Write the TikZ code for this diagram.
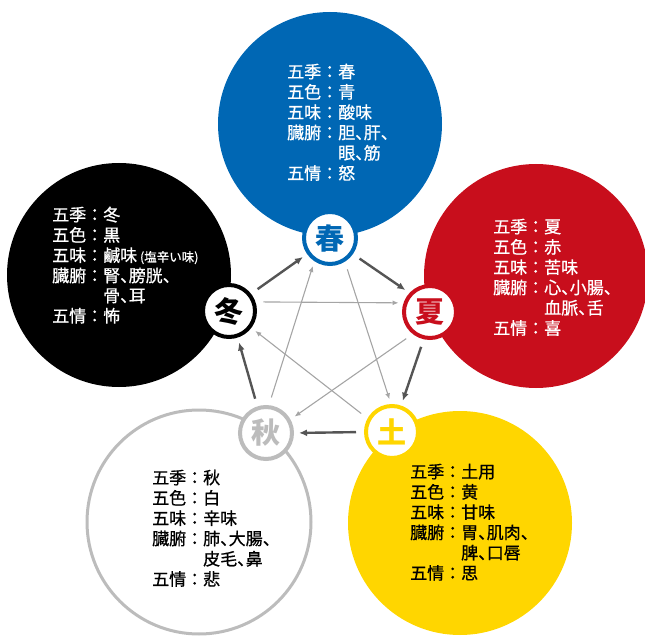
\documentclass[tikz,border=0pt]{standalone}
\usepackage{fontspec}
\setmainfont{Noto Sans CJK JP}
\newfontfamily\bodyfont[FakeBold=0.7]{Noto Sans CJK JP}
\usetikzlibrary{arrows.meta}

\definecolor{haru}{RGB}{0,103,180}
\definecolor{natsu}{RGB}{200,14,28}
\definecolor{doyo}{RGB}{255,214,0}
\definecolor{aki}{RGB}{188,188,188}
\definecolor{fuyu}{RGB}{0,0,0}
\definecolor{cyc}{RGB}{85,85,85}
\definecolor{ctl}{RGB}{165,165,165}

% narrow ideographic comma
\newcommand\tou{\makebox[0.5em][l]{、}}

\tikzset{
  bigdisc/.style={circle, minimum size=224pt, inner sep=0pt, outer sep=0pt},
  badge/.style={circle, draw=#1, line width=4pt, fill=white, minimum size=52pt,
    inner sep=0pt, text=#1, font=\fontsize{29}{29}\selectfont\bfseries},
  gen/.style={draw=cyc, line width=2.4pt, -{Latex[length=8pt,width=7pt]},
    shorten <=8pt, shorten >=5pt},
  ctrl/.style={draw=ctl, line width=1.1pt, -{Latex[length=6pt,width=5pt]},
    shorten <=8pt, shorten >=5pt},
  infotext/.style={anchor=base west, inner sep=0pt, font=\bodyfont\fontsize{17}{20}\selectfont}
}

\begin{document}
\begin{tikzpicture}[x=1pt,y=-1pt]
\useasboundingbox (0,0) rectangle (645,636);

% large discs, one per element
\node[bigdisc, fill=haru]  (haruDisc)  at (330,124) {};
\node[bigdisc, fill=natsu] (natsuDisc) at (536,276) {};
\node[bigdisc, fill=fuyu]  (fuyuDisc)  at (119,275) {};
\node[bigdisc, fill=white, draw=aki, line width=3pt] (akiDisc) at (199,522) {};
\node[bigdisc, fill=doyo]  (doyoDisc)  at (460,523) {};

% correspondence tables
\node[infotext, text=white] (haruText) at (287,78) {\begin{tabular}[t]{@{}l@{}l@{}}
五季：&春\\ 五色：&青\\ 五味：&酸味\\ 臓腑：&胆\tou 肝\tou\\ &眼\tou 筋\\ 五情：&怒
\end{tabular}};
\node[infotext, text=white] (natsuText) at (493,233) {\begin{tabular}[t]{@{}l@{}l@{}}
五季：&夏\\ 五色：&赤\\ 五味：&苦味\\ 臓腑：&心\tou 小腸\tou\\ &血脈\tou 舌\\ 五情：&喜
\end{tabular}};
\node[infotext, text=white] (fuyuText) at (52,221) {\begin{tabular}[t]{@{}l@{}l@{}}
五季：&冬\\ 五色：&黒\\ 五味：&鹹味\,{\fontsize{12.5}{12}\selectfont (塩辛い味)}\\ 臓腑：&腎\tou 膀胱\tou\\ &骨\tou 耳\\ 五情：&怖
\end{tabular}};
\node[infotext, text=black] (akiText) at (152,484) {\begin{tabular}[t]{@{}l@{}l@{}}
五季：&秋\\ 五色：&白\\ 五味：&辛味\\ 臓腑：&肺\tou 大腸\tou\\ &皮毛\tou 鼻\\ 五情：&悲
\end{tabular}};
\node[infotext, text=black] (doyoText) at (410,478) {\begin{tabular}[t]{@{}l@{}l@{}}
五季：&土用\\ 五色：&黄\\ 五味：&甘味\\ 臓腑：&胃\tou 肌肉\tou\\ &脾\tou 口唇\\ 五情：&思
\end{tabular}};

% element badges
\node[badge=haru]  (haru)  at (330,238) {春};
\node[badge=natsu] (natsu) at (430,312) {夏};
\node[badge=doyo]  (doyo)  at (392,432) {土};
\node[badge=aki]   (aki)   at (266,433) {秋};
\node[badge=fuyu]  (fuyu)  at (229,311) {冬};

% generating cycle
\draw[gen] (fuyu.38)  -- (haru.215);
\draw[gen] (haru.325) -- (natsu.137);
\draw[gen] (natsu.257) -- (doyo.71);
\draw[gen] (doyo.180) -- (aki.0);
\draw[gen] (aki.108) -- (fuyu.288);

% controlling star
\draw[ctrl] (fuyu.19) -- (natsu.161);
\draw[ctrl] (haru.302) -- (doyo.92);
\draw[ctrl] (aki.84) -- (haru.236);
\draw[ctrl] (natsu.232) -- (aki.29);
\draw[ctrl] (doyo.151) -- (fuyu.323);
\end{tikzpicture}
\end{document}
